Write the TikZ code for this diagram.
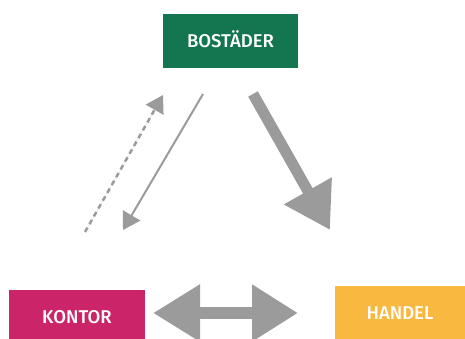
\documentclass[tikz,border=0pt]{standalone}
\usepackage{fontspec}
\setmainfont{Fira Sans Medium}
\usetikzlibrary{arrows.meta}

\definecolor{hijau}{HTML}{137650}
\definecolor{magenta}{HTML}{CC2469}
\definecolor{kuning}{HTML}{F9B940}
\definecolor{abu}{HTML}{9B9B9B}

\begin{document}
\begin{tikzpicture}[x=1pt,y=-1pt,
    kotak/.style={minimum height=54pt, inner sep=0pt, text=white,
      font=\fontsize{18.5}{20}\selectfont, text height=13pt, text depth=0pt},
    panah/.style={draw=abu, fill=abu}
  ]
      \useasboundingbox (0,0) rectangle (465,338);
      \clip (0,0) rectangle (465,338);

      % Kotak
      \node[kotak, fill=hijau, minimum width=135pt] (bostader) at (230.5,41) {BOSTÄDER};
      \node[kotak, fill=magenta, minimum width=136pt] (kontor) at (77,317) {KONTOR};
      \node[kotak, fill=kuning, minimum width=130pt] (handel) at (400,313) {HANDEL};

      % Titik ujung panah
      \coordinate (d1) at (85,232);
      \coordinate (d2) at (163,95);
      \coordinate (t1) at (203,94);
      \coordinate (t2) at (123,230);
      \coordinate (k1) at (253,94);
      \coordinate (k2) at (330,230);
      \coordinate (h1) at (153,313);
      \coordinate (h2) at (298,313);

      % Panah
      \draw[panah, line width=2.5pt, dash pattern=on 5pt off 4pt,
        -{Triangle[length=17pt,width=20pt]}] (d1) -- (d2);
      \draw[panah, line width=2pt,
        -{Triangle[length=17pt,width=20pt]}] (t1) -- (t2);
      \draw[panah, line width=11pt,
        -{Triangle[length=45pt,width=52pt]}] (k1) -- (k2);
      \draw[panah, line width=12pt,
        {Triangle[length=47pt,width=54pt]}-{Triangle[length=46pt,width=54pt]}] (h1) -- (h2);
    \end{tikzpicture}
\end{document}
